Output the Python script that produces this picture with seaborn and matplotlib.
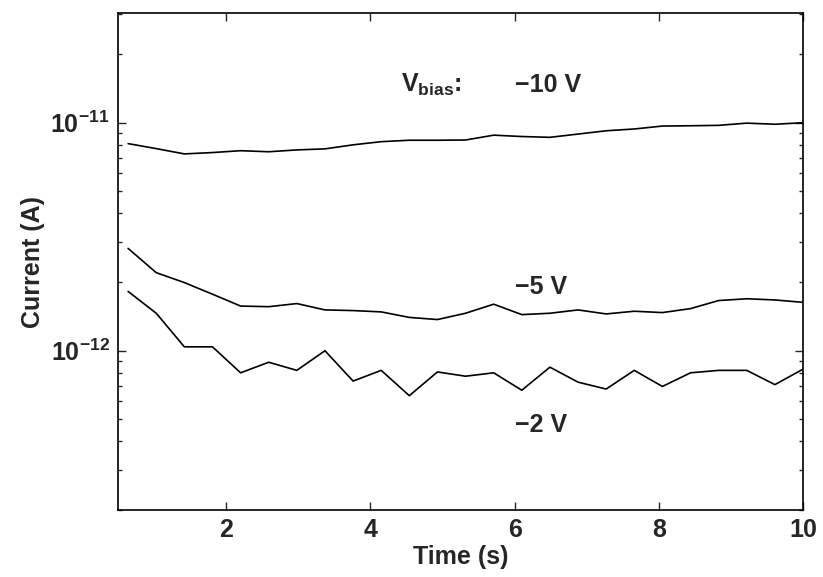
import numpy as np
import seaborn as sns
import matplotlib
matplotlib.use("Agg")
import matplotlib.pyplot as plt
import pandas as pd
from matplotlib.ticker import FixedLocator, NullFormatter

# tempo (s), un punto ogni ~0.39 s
time = [0.64, 1.03, 1.42, 1.81, 2.20, 2.59, 2.98, 3.37, 3.76, 4.15, 4.54, 4.93,
        5.32, 5.71, 6.10, 6.49, 6.88, 7.27, 7.66, 8.05, 8.44, 8.83, 9.22, 9.61, 10.00]

# corrente (A) per ogni tensione di bias
i_10v = [8.1e-12, 7.7e-12, 7.3e-12, 7.4e-12, 7.54e-12, 7.46e-12, 7.6e-12, 7.68e-12,
         8.0e-12, 8.26e-12, 8.38e-12, 8.38e-12, 8.4e-12, 8.82e-12, 8.7e-12, 8.63e-12,
         8.92e-12, 9.22e-12, 9.39e-12, 9.67e-12, 9.7e-12, 9.74e-12, 9.96e-12, 9.85e-12,
         1.0e-11]
i_5v = [2.81e-12, 2.2e-12, 1.99e-12, 1.77e-12, 1.57e-12, 1.56e-12, 1.61e-12, 1.51e-12,
        1.50e-12, 1.48e-12, 1.40e-12, 1.37e-12, 1.46e-12, 1.60e-12, 1.44e-12, 1.46e-12,
        1.51e-12, 1.45e-12, 1.49e-12, 1.47e-12, 1.53e-12, 1.66e-12, 1.69e-12, 1.67e-12,
        1.63e-12]
i_2v = [1.82e-12, 1.46e-12, 1.04e-12, 1.04e-12, 0.80e-12, 0.89e-12, 0.82e-12, 1.0e-12,
        0.736e-12, 0.82e-12, 0.635e-12, 0.807e-12, 0.773e-12, 0.80e-12, 0.671e-12,
        0.847e-12, 0.728e-12, 0.679e-12, 0.82e-12, 0.697e-12, 0.80e-12, 0.82e-12,
        0.82e-12, 0.71e-12, 0.83e-12]

labels = ["\u221210 V", "\u22125 V", "\u22122 V"]
x_ticks = [2, 4, 6, 8, 10]
y_ticks = [1e-12, 1e-11]
y_minor = [k * 1e-13 for k in range(2, 10)] + [k * 1e-12 for k in range(2, 10)] + \
          [k * 1e-11 for k in range(2, 4)]

data = pd.DataFrame({"Time": time * 3,
                     "Current": i_10v + i_5v + i_2v,
                     "Vbias": [l for l in labels for _ in time]})

sns.set_theme(style="ticks")
plt.rcParams["font.family"] = ["Liberation Sans", "DejaVu Sans"]
plt.rcParams["font.weight"] = "bold"
plt.rcParams["mathtext.fontset"] = "custom"
plt.rcParams["mathtext.rm"] = "Liberation Sans:bold"
plt.rcParams["mathtext.it"] = "Liberation Sans:bold"
plt.rcParams["mathtext.bf"] = "Liberation Sans:bold"

fig = plt.figure(figsize=(8.23, 5.77), dpi=100)
ax = fig.add_axes([0.1434, 0.116, 0.8323, 0.8615])

sns.lineplot(data=data, x="Time", y="Current", hue="Vbias",
             palette=["black"] * 3, linewidth=1.2, legend=False, ax=ax)

ax.set_yscale("log")
ax.set_xlim(0.5, 10)
ax.set_ylim(2e-13, 3.03e-11)
ax.set_xticks(x_ticks)
ax.yaxis.set_major_locator(FixedLocator(y_ticks))
ax.yaxis.set_minor_locator(FixedLocator(y_minor))
ax.yaxis.set_minor_formatter(NullFormatter())
ax.tick_params(which="both", direction="in", top=True, right=True,
               labelsize=18, width=1)
ax.tick_params(which="major", length=6, pad=6)
ax.tick_params(which="minor", length=3)
for s in ax.spines.values():
    s.set_linewidth(1.2)
    s.set_color("black")

ax.set_xlabel("Time (s)", fontsize=18, fontweight="bold", labelpad=2)
ax.set_ylabel("Current (A)", fontsize=18, fontweight="bold", labelpad=4)

# etichette delle curve
ax.text(4.42, 1.47e-11, "V$_{bias}$:", fontsize=18, va="center")
ax.text(6.0, 1.47e-11, labels[0], fontsize=18, va="center")
ax.text(6.0, 1.91e-12, labels[1], fontsize=18, va="center")
ax.text(6.0, 4.73e-13, labels[2], fontsize=18, va="center")

fig.savefig("out.png", dpi=100)
